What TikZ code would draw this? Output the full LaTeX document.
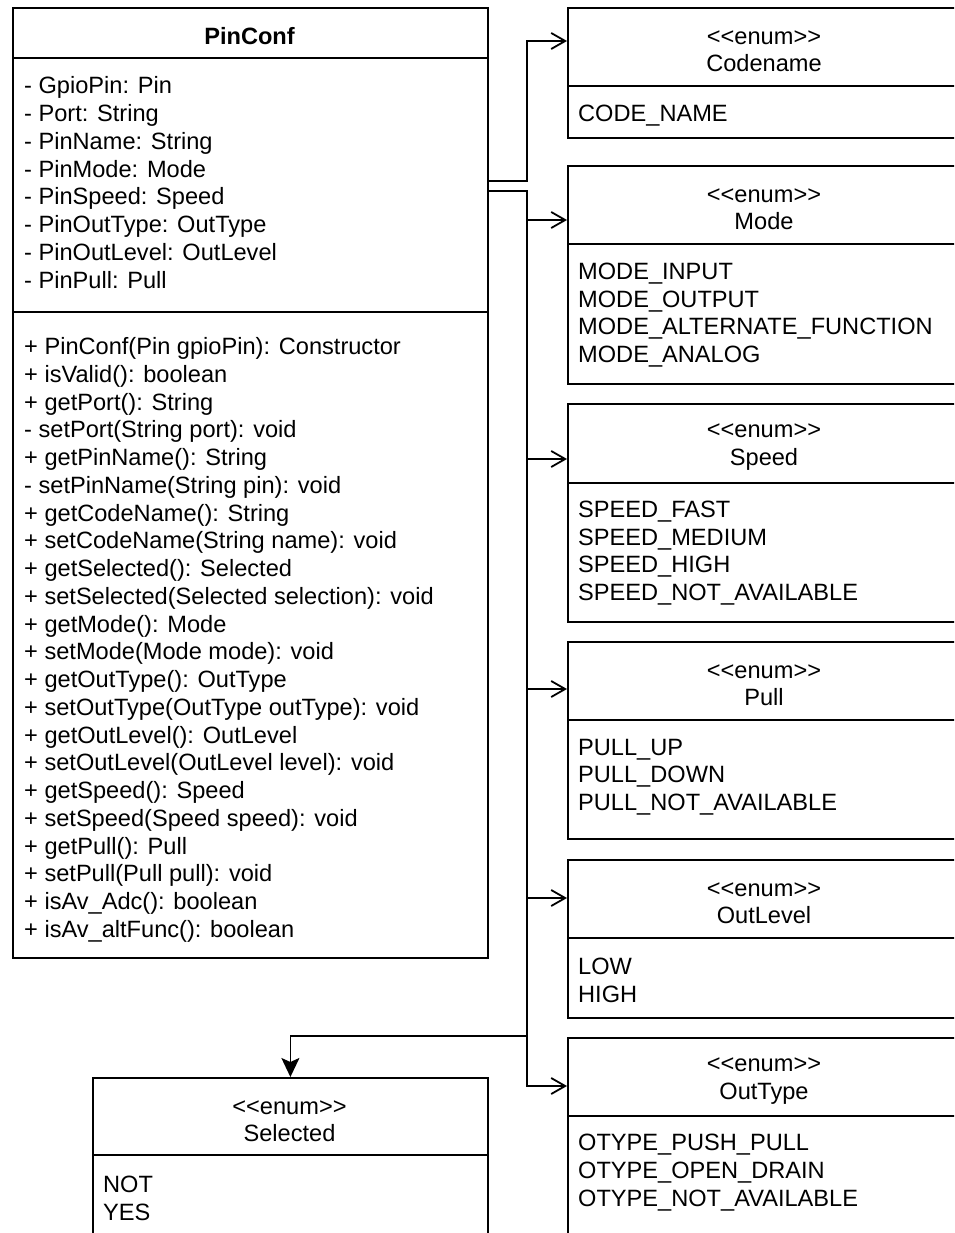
\documentclass[tikz,border=0pt]{standalone}
\usepackage{fontspec}
\setmainfont{Liberation Sans}[Ligatures=TeXOff]
\usetikzlibrary{arrows.meta}
\tikzset{
  umlbox/.style={draw, line width=1.8pt, anchor=north west, inner sep=0pt},
  members/.style={anchor=west, align=left, inner sep=0pt, font=\fontsize{23.6}{27.75}\selectfont},
  umltitle/.style={align=center, inner sep=0pt, font=\fontsize{23.6}{27.5}\selectfont},
  sepline/.style={line width=1.8pt},
  uses/.style={line width=1.8pt, -{Straight Barb[length=14pt,width=16pt,line width=1.8pt]}},
  owns/.style={line width=1.8pt, -{Stealth[length=19pt,width=18pt,inset=4pt]}}
}

\begin{document}
\begin{tikzpicture}[x=1pt, y=-1pt]
\clip (0,0) rectangle (954,1233);
\node[umlbox, minimum width=475, minimum height=950] (pinconf) at (12,7) {};
\draw[sepline] (pinconf.west |- 0,58) -- (pinconf.east |- 0,58);
\draw[sepline] (pinconf.west |- 0,312) -- (pinconf.east |- 0,312);
\node[umltitle, font=\fontsize{23.6}{27.5}\selectfont\bfseries] (pctitle) at (249.5,36) {PinConf};
\node[members] (pcattrs) at (24,182.5) {- GpioPin: Pin\\- Port: String\\- PinName: String\\- PinMode: Mode\\- PinSpeed: Speed\\- PinOutType: OutType\\- PinOutLevel: OutLevel\\- PinPull: Pull};
\node[members] (pcmethods) at (24,640) {+ PinConf(Pin gpioPin): Constructor\\+ isValid(): boolean\\+ getPort(): String\\- setPort(String port): void\\+ getPinName(): String\\- setPinName(String pin): void\\+ getCodeName(): String\\+ setCodeName(String name): void\\+ getSelected(): Selected\\+ setSelected(Selected selection): void\\+ getMode(): Mode\\+ setMode(Mode mode): void\\+ getOutType(): OutType\\+ setOutType(OutType outType): void\\+ getOutLevel(): OutLevel\\+ setOutLevel(OutLevel level): void\\+ getSpeed(): Speed\\+ setSpeed(Speed speed): void\\+ getPull(): Pull\\+ setPull(Pull pull): void\\+ isAv\_Adc(): boolean\\+ isAv\_altFunc(): boolean};

\node[umlbox, minimum width=394, minimum height=130] (codename) at (567,7) {};
\draw[sepline] (codename.west |- 0,86) -- (codename.east |- 0,86);
\node[umltitle] (cntitle) at (764,51) {<<enum>>\\Codename};
\node[members] (cnvals) at (578,115.5) {CODE\_NAME};

\node[umlbox, minimum width=394, minimum height=218] (mode) at (567,165) {};
\draw[sepline] (mode.west |- 0,244) -- (mode.east |- 0,244);
\node[umltitle] (mdtitle) at (764,209) {<<enum>>\\Mode};
\node[members] (mdvals) at (578,315) {MODE\_INPUT\\MODE\_OUTPUT\\MODE\_ALTERNATE\_FUNCTION\\MODE\_ANALOG};

\node[umlbox, minimum width=394, minimum height=218] (speed) at (567,403) {};
\draw[sepline] (speed.west |- 0,483) -- (speed.east |- 0,483);
\node[umltitle] (sptitle) at (764,447) {<<enum>>\\Speed};
\node[members] (spvals) at (578,553) {SPEED\_FAST\\SPEED\_MEDIUM\\SPEED\_HIGH\\SPEED\_NOT\_AVAILABLE};

\node[umlbox, minimum width=394, minimum height=197] (pull) at (567,641) {};
\draw[sepline] (pull.west |- 0,720) -- (pull.east |- 0,720);
\node[umltitle] (putitle) at (764,685) {<<enum>>\\Pull};
\node[members] (puvals) at (578,777) {PULL\_UP\\PULL\_DOWN\\PULL\_NOT\_AVAILABLE};

\node[umlbox, minimum width=394, minimum height=158] (outlevel) at (567,859) {};
\draw[sepline] (outlevel.west |- 0,938) -- (outlevel.east |- 0,938);
\node[umltitle] (oltitle) at (764,903) {<<enum>>\\OutLevel};
\node[members] (olvals) at (578,980.5) {LOW\\HIGH};

\node[umlbox, minimum width=394, minimum height=240] (outtype) at (567,1037) {};
\draw[sepline] (outtype.west |- 0,1116) -- (outtype.east |- 0,1116);
\node[umltitle] (ottitle) at (764,1081) {<<enum>>\\OutType};
\node[members] (otvals) at (578,1172.5) {OTYPE\_PUSH\_PULL\\OTYPE\_OPEN\_DRAIN\\OTYPE\_NOT\_AVAILABLE};

\node[umlbox, minimum width=395, minimum height=200] (selected) at (92,1077) {};
\draw[sepline] (selected.west |- 0,1155) -- (selected.east |- 0,1155);
\node[umltitle] (sltitle) at (289.5,1121) {<<enum>>\\Selected};
\node[members] (slvals) at (103,1198) {NOT\\YES};

\coordinate (bus) at (527,0);
\coordinate (pc1) at (487,181);
\coordinate (pc2) at (487,191);
\draw[uses] (pc1) -| (bus |- 0,41) -- (codename.west |- 0,41);
\foreach \target/\y in {mode/220, speed/459, pull/689, outlevel/898, outtype/1086}
  \draw[uses] (pc2) -| (bus |- 0,\y) -- (\target.west |- 0,\y);
\draw[owns] (pc2) -| (bus |- 0,1036) -| (selected.north);
\end{tikzpicture}
\end{document}
